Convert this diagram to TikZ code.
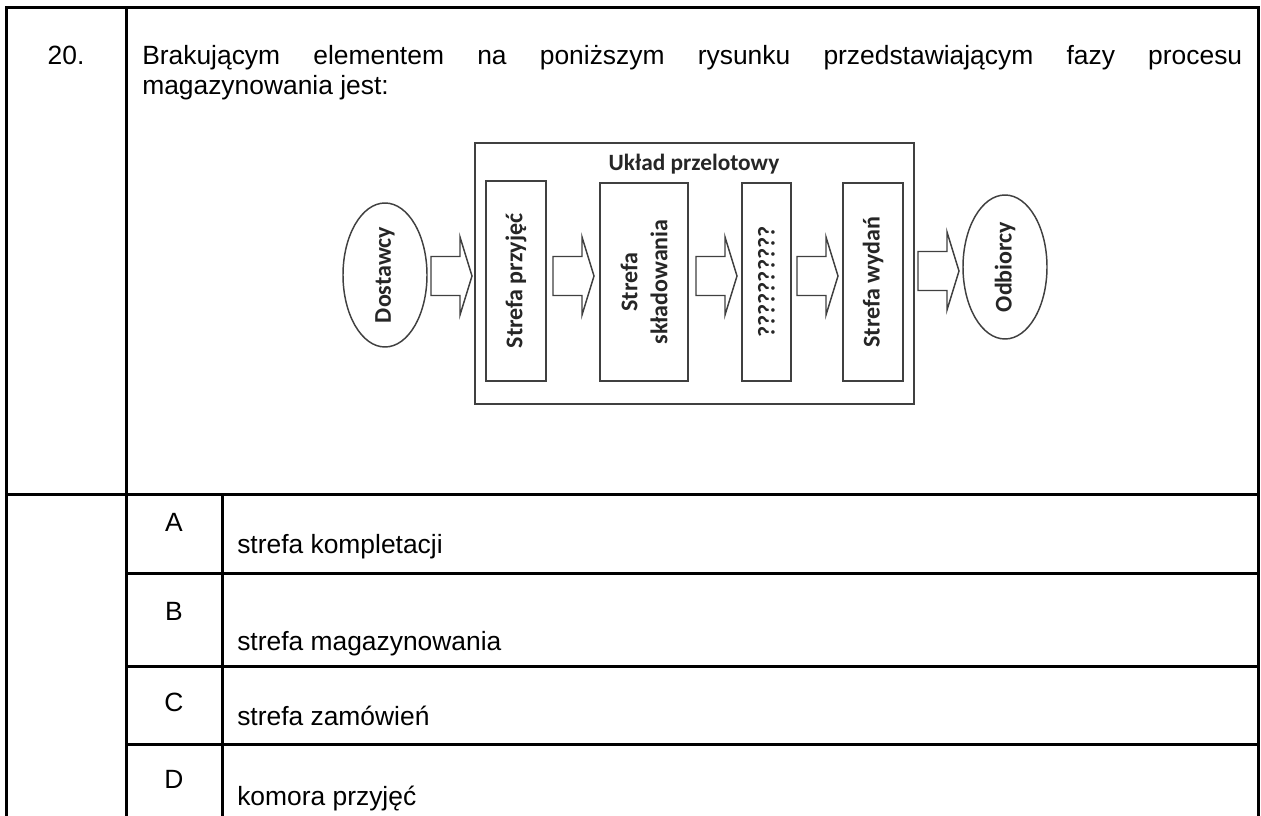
\documentclass[tikz,border=0pt]{standalone}
\usepackage{fontspec}
\setmainfont{Liberation Sans}
\newfontfamily\calfont{Carlito}
\usetikzlibrary{shapes.geometric}
\begin{document}
\begin{tikzpicture}[x=0.75pt,y=-0.75pt,
  tline/.style={line width=2.25pt,black},
  dline/.style={line width=1.1pt,black!75,line join=miter},
  qtext/.style={font=\fontsize{19.8}{23}\selectfont,inner sep=0pt,anchor=base west},
  letter/.style={font=\fontsize{19.8}{23}\selectfont,inner sep=0pt,anchor=base},
  zone/.style={draw=black!75,line width=1.1pt,rotate=90,inner sep=0pt,
    font=\calfont\bfseries\fontsize{18}{22.5}\selectfont,text=black!85,align=center},
  party/.style={zone,ellipse,minimum width=108pt,minimum height=63pt},
  blockarr/.pic={\draw[dline] (0,-19.5) -- (29,-19.5) -- (29,-39) -- (41,0) -- (29,39) -- (29,19.5) -- (0,19.5) -- cycle;}
]
\useasboundingbox[fill=white] (0,0) rectangle (1261,816);
% table
\draw[tline] (6,830) -- (6,8) -- (1258,8) -- (1258,830);
\draw[tline] (126,8) -- (126,830);
\draw[tline] (6,495) -- (1258,495);
\draw[tline] (222,495) -- (222,830);
\draw[tline] (126,573) -- (1258,573);
\draw[tline] (126,666) -- (1258,666);
\draw[tline] (126,744) -- (1258,744);
% question
\node[letter] (num) at (66,65) {20.};
\node[qtext] (q1) at (142,65) {\makebox[825pt][s]{Brakującym elementem na poniższym rysunku przedstawiającym fazy procesu}};
\node[qtext] (q2) at (142,95) {magazynowania jest:};
% diagram
\draw[dline] (475,143) rectangle (914,404);
\node[font=\calfont\bfseries\fontsize{17.5}{20}\selectfont,text=black!85,inner sep=0pt,anchor=base] (title) at (694,171) {Układ przelotowy};
\node[party] (dost) at (385,275) {Dostawcy};
\node[zone,minimum width=150pt,minimum height=45pt] (z1) at (516,281) {Strefa przyjęć};
\node[zone,minimum width=148.5pt,minimum height=66pt] (z2) at (644,282) {Strefa\\składowania};
\node[zone,minimum width=148.5pt,minimum height=36.75pt] (z3) at (766.5,282) {??????????};
\node[zone,minimum width=148.5pt,minimum height=45pt] (z4) at (873,282) {Strefa wydań};
\node[party] (odb) at (1005,267) {Odbiorcy};
\pic at (431,276) {blockarr};
\pic at (553,276) {blockarr};
\pic at (696,276) {blockarr};
\pic at (797,276) {blockarr};
\pic at (918,271) {blockarr};
% answers
\node[letter] (la) at (174,532) {A};
\node[qtext] (ta) at (237,553) {strefa kompletacji};
\node[letter] (lb) at (174,620) {B};
\node[qtext] (tb) at (237,650) {strefa magazynowania};
\node[letter] (lc) at (174,711) {C};
\node[qtext] (tc) at (237,725) {strefa zamówień};
\node[letter] (ld) at (174,788) {D};
\node[qtext] (td) at (237,805) {komora przyjęć};
\end{tikzpicture}
\end{document}
